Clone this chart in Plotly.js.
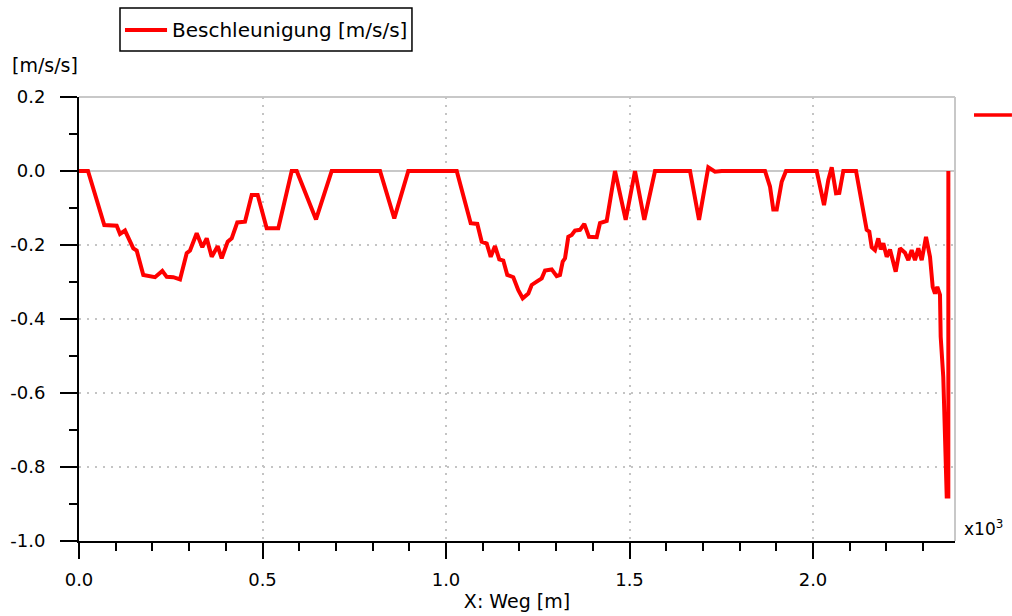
<!DOCTYPE html>
<html>
<head>
<meta charset="utf-8">
<script src="https://cdn.plot.ly/plotly-3.0.1.min.js"></script>
<style>html,body{margin:0;padding:0;background:#fff;}#chart{width:1012px;height:616px;}</style>
</head>
<body>
<div id="chart"></div>
<script>
// X: Weg in units of 10^3 m
const weg = [0, 0.0245, 0.0689, 0.1027, 0.1117, 0.1253, 0.148, 0.1572, 0.1752, 0.2071,
  0.227, 0.239, 0.2569, 0.2752, 0.2935, 0.3025, 0.3207, 0.336, 0.348, 0.3616,
  0.3779, 0.3888, 0.4052, 0.4161, 0.4313, 0.4523, 0.4706, 0.4869, 0.5114, 0.543,
  0.5796, 0.5932, 0.6458, 0.6886, 0.8202, 0.8591, 0.8973, 1.0292, 1.0673, 1.0853,
  1.0973, 1.1109, 1.1218, 1.1335, 1.1452, 1.1561, 1.167, 1.1834, 1.197, 1.209,
  1.2243, 1.2335, 1.2471, 1.2608, 1.2698, 1.288, 1.3016, 1.3106, 1.318, 1.3243,
  1.3332, 1.3425, 1.3515, 1.3651, 1.3768, 1.3896, 1.4106, 1.4196, 1.4379, 1.4605,
  1.4896, 1.515, 1.5403, 1.5695, 1.6649, 1.6894, 1.7147, 1.733, 1.7512, 1.8692,
  1.8828, 1.8918, 1.9011, 1.9147, 1.9264, 2.0101, 2.03, 2.0417, 2.051, 2.0627,
  2.0717, 2.0826, 2.1172, 2.1463, 2.1534, 2.1599, 2.1689, 2.1779, 2.1845, 2.1916,
  2.2008, 2.2098, 2.2253, 2.237, 2.2507, 2.2597, 2.2689, 2.2779, 2.2869, 2.2962,
  2.3079, 2.3188, 2.3261, 2.3324, 2.3387, 2.346, 2.3479, 2.3549, 2.3576, 2.3615,
  2.3643, 2.3687, 2.3688];
// Beschleunigung [m/s/s]
const beschleunigung = [0, 0, -0.146, -0.148, -0.17, -0.161, -0.209, -0.215, -0.281, -0.287,
  -0.27, -0.286, -0.287, -0.293, -0.222, -0.215, -0.168, -0.206, -0.182, -0.232,
  -0.203, -0.236, -0.191, -0.182, -0.139, -0.137, -0.065, -0.065, -0.155, -0.155,
  0, 0, -0.131, 0, 0, -0.128, 0, 0, -0.141, -0.143,
  -0.191, -0.196, -0.232, -0.203, -0.239, -0.242, -0.281, -0.287, -0.322, -0.344,
  -0.331, -0.308, -0.299, -0.29, -0.269, -0.266, -0.284, -0.281, -0.245, -0.236,
  -0.178, -0.173, -0.161, -0.159, -0.143, -0.178, -0.179, -0.141, -0.135, 0,
  -0.132, 0, -0.132, 0, 0, -0.132, 0.01, -0.002, 0, 0,
  -0.042, -0.104, -0.104, -0.029, 0, 0, -0.092, -0.024, 0.01, -0.06,
  -0.059, 0, 0, -0.159, -0.164, -0.206, -0.214, -0.182, -0.212, -0.195,
  -0.232, -0.212, -0.272, -0.209, -0.221, -0.241, -0.214, -0.241, -0.209, -0.241,
  -0.178, -0.232, -0.313, -0.331, -0.313, -0.335, -0.448, -0.556, -0.646, -0.772,
  -0.88, -0.88, 0];

const seriesName = 'Beschleunigung [m/s/s]';
const xTickVals = [0, 0.5, 1.0, 1.5, 2.0];
const xTickText = ["0.0", "0.5", "1.0", "1.5", "2.0"];
const yTickVals = [0.2, 0.0, -0.2, -0.4, -0.6, -0.8, -1.0];
const yTickText = ["0.2", "0.0", "-0.2", "-0.4", "-0.6", "-0.8", "-1.0"];

const FONT = "DejaVu Sans, Verdana, sans-serif";
const RED = '#ff0000';

const trace = {
  x: weg, y: beschleunigung, type: 'scatter', mode: 'lines',
  name: seriesName, showlegend: false,
  line: {color: RED, width: 4}
};

const layout = {
  width: 1012, height: 616,
  margin: {l: 79, r: 57, t: 97, b: 75},
  paper_bgcolor: '#ffffff', plot_bgcolor: '#ffffff',
  font: {family: FONT, size: 18, color: '#000'},
  showlegend: false,
  xaxis: {
    range: [0, 2.3869], tickmode: 'array', tickvals: xTickVals, ticktext: xTickText,
    ticks: 'outside', ticklen: 16, tickwidth: 2, tickcolor: '#000',
    ticklabelstandoff: 5,
    minor: {tickmode: 'linear', tick0: 0, dtick: 0.1, ticks: 'outside', ticklen: 8, tickwidth: 2, tickcolor: '#000', showgrid: false},
    showline: true, linecolor: '#000', linewidth: 2,
    showgrid: true, gridcolor: '#c4c4c4', griddash: '2px,6px', gridwidth: 2,
    zeroline: false,
    tickfont: {family: FONT, size: 18},
    title: {text: 'X: Weg [m]', font: {family: FONT, size: 19}, standoff: 6}
  },
  yaxis: {
    range: [-1.0, 0.2], tickmode: 'array', tickvals: yTickVals, ticktext: yTickText,
    ticks: 'outside', ticklen: 17, tickwidth: 2, tickcolor: '#000',
    ticklabelstandoff: 11,
    minor: {tickmode: 'linear', tick0: 0, dtick: 0.1, ticks: 'outside', ticklen: 8, tickwidth: 2, tickcolor: '#000', showgrid: false},
    showline: true, linecolor: '#000', linewidth: 2,
    showgrid: true, gridcolor: '#c4c4c4', griddash: '2px,6px', gridwidth: 2,
    zeroline: true, zerolinecolor: '#c8c8c8', zerolinewidth: 2,
    tickfont: {family: FONT, size: 18}
  },
  shapes: [
    {type: 'line', xref: 'paper', yref: 'paper', x0: 0, x1: 1, y0: 1, y1: 1, line: {color: '#c8c8c8', width: 2}, layer: 'below'},
    {type: 'line', xref: 'paper', yref: 'paper', x0: 1, x1: 1, y0: 0, y1: 1, line: {color: '#c8c8c8', width: 2}, layer: 'below'},
    {type: 'line', xref: 'paper', yref: 'paper', x0: 1.0217, x1: 1.065, y0: 0.9595, y1: 0.9595, line: {color: RED, width: 3.5}},
    // legend box
    {type: 'rect', xref: 'paper', yref: 'paper', x0: 0.0468, x1: 0.3801, y0: 1.1036, y1: 1.2005, line: {color: '#000', width: 1.5}, fillcolor: '#fff'},
    {type: 'line', xref: 'paper', yref: 'paper', x0: 0.0525, x1: 0.1005, y0: 1.1509, y1: 1.1509, line: {color: RED, width: 4}}
  ],
  annotations: [
    {text: seriesName, xref: 'paper', yref: 'paper', x: 0.1039, y: 1.1509, xanchor: 'left', yanchor: 'middle', showarrow: false, font: {family: FONT, size: 20, color: '#000'}},
    {text: '[m/s/s]', xref: 'paper', yref: 'paper', x: -0.0788, y: 1.072, xanchor: 'left', yanchor: 'middle', showarrow: false, font: {family: FONT, size: 19, color: '#000'}},
    {text: 'x10<sup>3</sup>', xref: 'paper', yref: 'paper', x: 1.008, y: 0.03, xanchor: 'left', yanchor: 'middle', showarrow: false, font: {family: FONT, size: 17, color: '#000'}}
  ]
};

Plotly.newPlot('chart', [trace], layout, {displayModeBar: false, staticPlot: true});
</script>
</body>
</html>
